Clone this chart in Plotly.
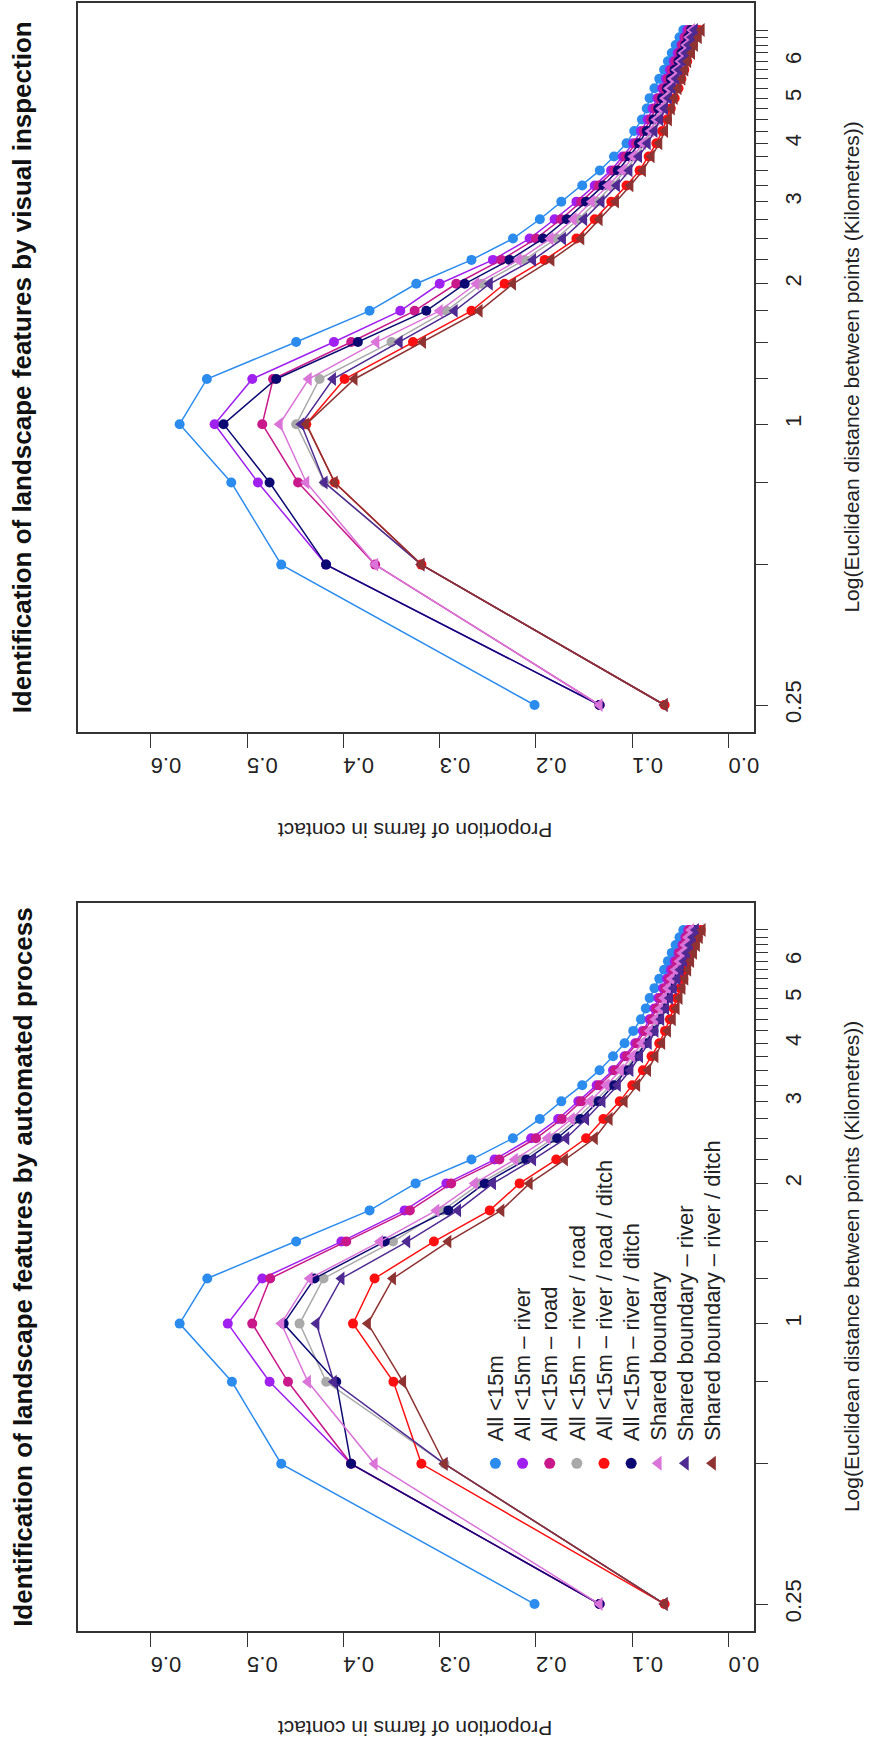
import plotly.graph_objects as go

# Distance classes (km) and their axis labels
distance_km = [0.25, 0.5, 0.75, 1.0, 1.25, 1.5, 1.75, 2.0, 2.25, 2.5, 2.75, 3.0, 3.25, 3.5,
               3.75, 4.0, 4.25, 4.5, 4.75, 5.0, 5.25, 5.5, 5.75, 6.0, 6.25, 6.5, 6.75, 7.0]
distance_labels = ["0.25", "", "", "1", "", "", "", "2", "", "", "", "3", "", "",
                   "", "4", "", "", "", "5", "", "", "", "6", "", "", "", ""]
prop_ticks = [0.0, 0.1, 0.2, 0.3, 0.4, 0.5, 0.6]
prop_labels = ["0.0", "0.1", "0.2", "0.3", "0.4", "0.5", "0.6"]

series_names = ["All <15m", "All <15m \u2013 river", "All <15m \u2013 road",
                "All <15m \u2013 river / road", "All <15m \u2013 river / road / ditch",
                "All <15m \u2013 river / ditch", "Shared boundary",
                "Shared boundary \u2013 river", "Shared boundary \u2013 river / ditch"]
series_colors = ["#2b8cee", "#a020f0", "#c8188a", "#a9a9a9", "#ff1010",
                 "#0c0a72", "#da74d8", "#4e2a92", "#8e3232"]
series_symbols = ["circle"] * 6 + ["triangle-left"] * 3

# Proportion of farms in contact: features identified by visual inspection
visual_all = [0.2015, 0.4645, 0.5164, 0.570, 0.5417, 0.449, 0.3728, 0.3243, 0.267, 0.2239,
              0.196, 0.1737, 0.152, 0.1337, 0.119, 0.106, 0.098, 0.090, 0.085, 0.082,
              0.077, 0.072, 0.067, 0.063, 0.059, 0.055, 0.051, 0.047]
visual_river = [0.134, 0.418, 0.4887, 0.5337, 0.4946, 0.4098, 0.3409, 0.300, 0.2447, 0.2066,
                0.1807, 0.158, 0.139, 0.122, 0.110, 0.099, 0.091, 0.084, 0.079, 0.074,
                0.069, 0.065, 0.061, 0.057, 0.053, 0.049, 0.046, 0.043]
visual_road = [0.134, 0.367, 0.447, 0.4842, 0.473, 0.3918, 0.326, 0.2828, 0.236, 0.200,
               0.174, 0.153, 0.135, 0.119, 0.107, 0.096, 0.088, 0.081, 0.076, 0.072,
               0.067, 0.063, 0.059, 0.055, 0.051, 0.048, 0.045, 0.041]
visual_river_road = [0.0665, 0.319, 0.4195, 0.449, 0.4247, 0.350, 0.293, 0.256, 0.212, 0.179,
                     0.156, 0.137, 0.121, 0.107, 0.096, 0.087, 0.079, 0.073, 0.068, 0.064,
                     0.060, 0.056, 0.052, 0.049, 0.046, 0.042, 0.039, 0.036]
visual_river_road_ditch = [0.0665, 0.319, 0.409, 0.4385, 0.3987, 0.3277, 0.267, 0.2326, 0.191, 0.158,
                           0.139, 0.1218, 0.106, 0.0924, 0.083, 0.075, 0.069, 0.064, 0.060, 0.056,
                           0.052, 0.049, 0.046, 0.043, 0.040, 0.037, 0.034, 0.031]
visual_river_ditch = [0.134, 0.418, 0.4766, 0.5244, 0.4697, 0.3849, 0.3139, 0.274, 0.2274, 0.1927,
                      0.168, 0.148, 0.130, 0.115, 0.103, 0.093, 0.085, 0.078, 0.073, 0.069,
                      0.064, 0.060, 0.056, 0.052, 0.049, 0.045, 0.042, 0.039]
visual_shared = [0.134, 0.367, 0.4385, 0.4662, 0.436, 0.3658, 0.300, 0.262, 0.218, 0.185,
                 0.161, 0.142, 0.125, 0.110, 0.099, 0.089, 0.081, 0.075, 0.070, 0.066,
                 0.062, 0.058, 0.054, 0.050, 0.047, 0.044, 0.041, 0.038]
visual_shared_river = [0.0665, 0.319, 0.4195, 0.4437, 0.4108, 0.3416, 0.2845, 0.248, 0.203, 0.172,
                       0.150, 0.132, 0.116, 0.103, 0.093, 0.084, 0.077, 0.071, 0.066, 0.062,
                       0.058, 0.054, 0.051, 0.047, 0.044, 0.041, 0.038, 0.035]
visual_shared_river_ditch = [0.0665, 0.319, 0.409, 0.4385, 0.3884, 0.3174, 0.2586, 0.2239, 0.184, 0.153,
                             0.134, 0.117, 0.102, 0.089, 0.080, 0.072, 0.066, 0.062, 0.059, 0.056,
                             0.052, 0.048, 0.045, 0.042, 0.038, 0.035, 0.031, 0.028]

# Proportion of farms in contact: features identified by automated process
auto_all = [0.2015, 0.4645, 0.5157, 0.570, 0.5413, 0.449, 0.3728, 0.325, 0.267, 0.224,
            0.196, 0.1737, 0.152, 0.134, 0.120, 0.108, 0.099, 0.091, 0.086, 0.082,
            0.077, 0.072, 0.067, 0.063, 0.059, 0.055, 0.051, 0.047]
auto_river = [0.134, 0.392, 0.4766, 0.520, 0.4842, 0.402, 0.3364, 0.293, 0.243, 0.205,
              0.177, 0.156, 0.137, 0.120, 0.108, 0.097, 0.089, 0.082, 0.077, 0.073,
              0.068, 0.064, 0.060, 0.056, 0.052, 0.048, 0.045, 0.042]
auto_road = [0.134, 0.392, 0.4575, 0.4946, 0.476, 0.397, 0.331, 0.288, 0.238, 0.200,
             0.173, 0.153, 0.134, 0.118, 0.106, 0.095, 0.087, 0.080, 0.075, 0.071,
             0.066, 0.062, 0.058, 0.054, 0.051, 0.047, 0.044, 0.041]
auto_river_road = [0.0665, 0.295, 0.4178, 0.4455, 0.4206, 0.3485, 0.2966, 0.258, 0.215, 0.182,
                   0.158, 0.139, 0.122, 0.108, 0.097, 0.087, 0.080, 0.074, 0.069, 0.065,
                   0.061, 0.057, 0.053, 0.049, 0.046, 0.043, 0.040, 0.037]
auto_river_road_ditch = [0.0665, 0.319, 0.348, 0.390, 0.3676, 0.306, 0.248, 0.217, 0.179, 0.148,
                         0.130, 0.113, 0.100, 0.089, 0.080, 0.072, 0.066, 0.061, 0.057, 0.054,
                         0.050, 0.047, 0.044, 0.041, 0.038, 0.035, 0.032, 0.029]
auto_river_ditch = [0.134, 0.392, 0.4074, 0.462, 0.430, 0.357, 0.291, 0.2533, 0.210, 0.178,
                    0.154, 0.135, 0.119, 0.106, 0.095, 0.086, 0.078, 0.072, 0.067, 0.063,
                    0.059, 0.055, 0.051, 0.048, 0.045, 0.042, 0.039, 0.036]
auto_shared = [0.134, 0.3676, 0.4368, 0.4645, 0.435, 0.362, 0.3035, 0.2637, 0.222, 0.188,
               0.163, 0.144, 0.127, 0.112, 0.100, 0.090, 0.082, 0.076, 0.071, 0.067,
               0.063, 0.059, 0.055, 0.051, 0.048, 0.045, 0.042, 0.039]
auto_shared_river = [0.0665, 0.295, 0.410, 0.428, 0.402, 0.3337, 0.281, 0.2447, 0.203, 0.1686,
                     0.148, 0.131, 0.115, 0.102, 0.092, 0.083, 0.076, 0.070, 0.065, 0.061,
                     0.057, 0.053, 0.050, 0.046, 0.043, 0.040, 0.037, 0.034]
auto_shared_river_ditch = [0.0665, 0.295, 0.338, 0.3746, 0.3485, 0.291, 0.236, 0.2066, 0.170, 0.139,
                           0.1236, 0.108, 0.095, 0.0837, 0.076, 0.069, 0.063, 0.058, 0.054, 0.051,
                           0.048, 0.045, 0.042, 0.039, 0.036, 0.033, 0.030, 0.027]

visual_series = [visual_all, visual_river, visual_road, visual_river_road, visual_river_road_ditch,
                 visual_river_ditch, visual_shared, visual_shared_river, visual_shared_river_ditch]
auto_series = [auto_all, auto_river, auto_road, auto_river_road, auto_river_road_ditch,
               auto_river_ditch, auto_shared, auto_shared_river, auto_shared_river_ditch]

panel_titles = ["Identification of landscape features by visual inspection",
                "Identification of landscape features by automated process"]
prop_title = "Proportion of farms in contact"
dist_title = "Log(Euclidean distance between points (Kilometres))"

# ---- page geometry (pixels) ----
W, H = 869, 1742
BOX_L, BOX_R = 78, 758
PANELS = [(3, 732), (903, 1631)]   # (top, bottom) of each plotting box
FONT = "Liberation Sans, Arial, Helvetica, sans-serif"
INK = "#222222"
FRAME = "#333333"
CIRCLE_SIZE, TRIANGLE_SIZE = 10, 12


def px_x(px):
    return px / W


def px_y(py):
    return 1 - py / H


def marker_size(sym):
    return CIRCLE_SIZE if sym == "circle" else TRIANGLE_SIZE


fig = go.Figure()

for panel, data in enumerate([visual_series, auto_series]):
    suffix = "" if panel == 0 else "2"
    for name, vals, col, sym in zip(series_names, data, series_colors, series_symbols):
        fig.add_trace(go.Scatter(
            x=vals, y=distance_km, mode="lines+markers", name=name,
            xaxis="x" + suffix, yaxis="y" + suffix, showlegend=False,
            line=dict(color=col, width=1.5),
            marker=dict(color=col, symbol=sym, size=marker_size(sym),
                        line=dict(width=0)),
        ))

log_lo, log_hi = -0.60206, 0.845098      # log10(0.25), log10(7)
pad = 0.04 * (log_hi - log_lo)
prop_lo, prop_hi = 0.0, 0.65
ppad = 0.04 * (prop_hi - prop_lo)

for panel, (top, bottom) in enumerate(PANELS):
    suffix = "" if panel == 0 else "2"
    xa = dict(
        domain=[px_x(BOX_L), px_x(BOX_R)], anchor="y" + suffix,
        range=[prop_hi + ppad, prop_lo - ppad], autorange=False,
        tickvals=prop_ticks, ticktext=prop_labels, tickangle=180,
        ticks="outside", ticklen=14, tickwidth=1.4, tickcolor=FRAME,
        ticklabelstandoff=6,
        showline=True, mirror=True, linecolor=FRAME, linewidth=1.6,
        showgrid=False, zeroline=False,
        tickfont=dict(family=FONT, size=22, color=INK),
    )
    ya = dict(
        domain=[px_y(bottom), px_y(top)], anchor="x" + suffix, side="right",
        type="log", range=[log_lo - pad, log_hi + pad], autorange=False,
        tickvals=distance_km, ticktext=distance_labels, tickangle=-90,
        ticks="outside", ticklen=13, tickwidth=1.4, tickcolor=FRAME,
        ticklabelstandoff=6,
        showline=True, mirror=True, linecolor=FRAME, linewidth=1.6,
        showgrid=False, zeroline=False,
        tickfont=dict(family=FONT, size=22, color=INK),
    )
    fig.update_layout(**{"xaxis" + suffix: xa, "yaxis" + suffix: ya})

    mid = (top + bottom) / 2
    # panel title, reading upwards along the left edge
    fig.add_annotation(
        text="<b>" + panel_titles[panel] + "</b>", xref="paper", yref="paper",
        x=px_x(23), y=px_y(mid), xanchor="center", yanchor="middle",
        textangle=-90, showarrow=False,
        font=dict(family=FONT, size=26, color="#111111"),
    )
    # proportion axis title (upside down under the box)
    fig.add_annotation(
        text=prop_title, xref="paper", yref="paper",
        x=px_x((BOX_L + BOX_R) / 2), y=px_y(bottom + 98), xanchor="center", yanchor="middle",
        textangle=180, showarrow=False,
        font=dict(family=FONT, size=21, color=INK),
    )
    # distance axis title along the right edge
    fig.add_annotation(
        text=dist_title, xref="paper", yref="paper",
        x=px_x(856), y=px_y(mid), xanchor="center", yanchor="middle",
        textangle=-90, showarrow=False,
        font=dict(family=FONT, size=21, color=INK),
    )

# ---- key for the automated-process panel ----
key_x0, key_dx = 498.3, 27.3
key_marker_y, key_text_y = 1463.3, 1443.0
for i, name in enumerate(series_names):
    kx = key_x0 + i * key_dx
    fig.add_annotation(
        text=name.replace("<", "&lt;"), xref="paper", yref="paper",
        x=px_x(kx), y=px_y(key_text_y), xanchor="center", yanchor="bottom",
        textangle=-90, showarrow=False,
        font=dict(family=FONT, size=22, color=INK),
    )
fig.add_trace(go.Scatter(
    x=[px_x(key_x0 + i * key_dx) for i in range(len(series_names))],
    y=[px_y(key_marker_y)] * len(series_names),
    mode="markers", xaxis="x3", yaxis="y3", showlegend=False, hoverinfo="skip",
    marker=dict(color=series_colors, symbol=series_symbols, opacity=1,
                size=[marker_size(s) + 1 for s in series_symbols], line=dict(width=0)),
))
fig.update_layout(
    xaxis3=dict(domain=[0, 1], range=[0, 1], visible=False, anchor="y3", fixedrange=True),
    yaxis3=dict(domain=[0, 1], range=[0, 1], visible=False, anchor="x3", fixedrange=True),
)

fig.update_layout(
    width=W, height=H, margin=dict(l=0, r=0, t=0, b=0),
    paper_bgcolor="white", plot_bgcolor="rgba(0,0,0,0)", showlegend=False,
    font=dict(family=FONT, color=INK),
)

fig.write_html("out.html")
